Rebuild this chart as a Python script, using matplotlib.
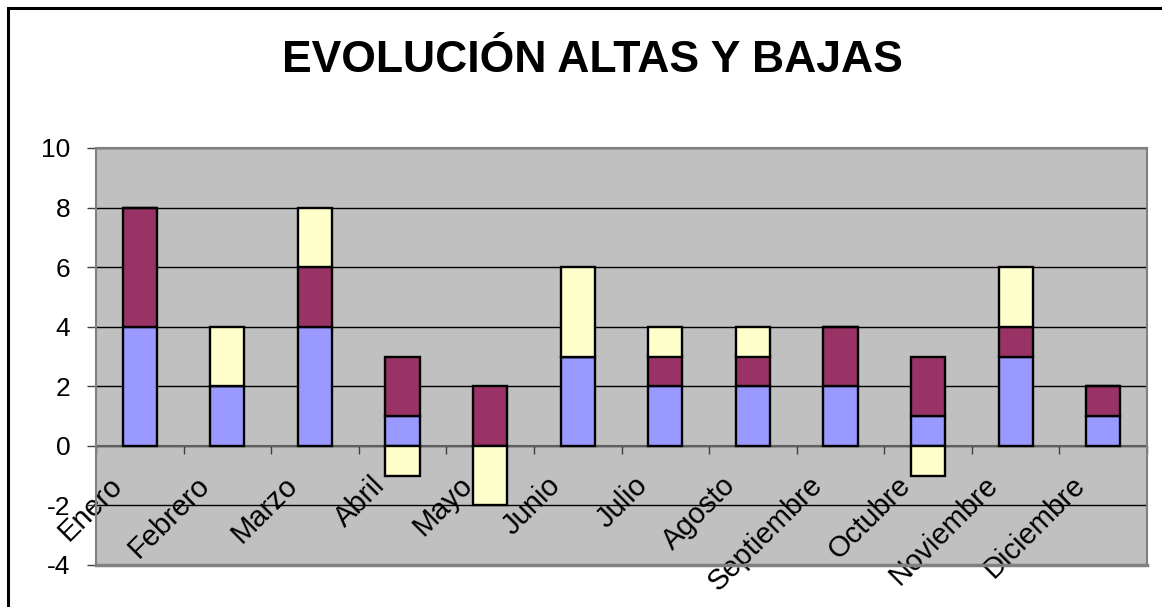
import numpy as np
import matplotlib.pyplot as plt
from matplotlib.patches import Rectangle
from matplotlib.transforms import ScaledTranslation

meses = ["Enero", "Febrero", "Marzo", "Abril", "Mayo", "Junio", "Julio",
         "Agosto", "Septiembre", "Octubre", "Noviembre", "Diciembre"]

# three series, stacked (negatives go below zero on their own)
serie_azul = [4, 2, 4, 1, 0, 3, 2, 2, 2, 1, 3, 1]
serie_granate = [4, 0, 2, 2, 2, 0, 1, 1, 2, 2, 1, 1]
serie_amarilla = [0, 2, 2, -1, -2, 3, 1, 1, 0, -1, 2, 0]

colores = ["#9999FF", "#993366", "#FFFFCC"]

plt.rcParams['font.family'] = ['Liberation Sans', 'DejaVu Sans']
plt.rcParams['axes.unicode_minus'] = False

fig = plt.figure(figsize=(11.62, 6.07), dpi=100)
# outer chart frame (runs off the right/bottom edges)
fig.patches.append(Rectangle((8 / 1162, -0.1), 1.2, 1 - 8 / 607 + 0.1,
                             transform=fig.transFigure, fill=False,
                             edgecolor="black", linewidth=2.2))

ax = fig.add_axes([96 / 1162, 1 - 565 / 607, (1147 - 96) / 1162, (565 - 148) / 607])
ax.set_facecolor("#C0C0C0")

x = np.arange(len(meses))
pos = np.zeros(len(meses))
neg = np.zeros(len(meses))
for serie, color in zip([serie_azul, serie_granate, serie_amarilla], colores):
    vals = np.array(serie, dtype=float)
    base = np.where(vals >= 0, pos, neg)
    ax.bar(x, vals, 0.39, bottom=base, color=color, edgecolor="black",
           linewidth=1.7, zorder=3)
    pos += np.where(vals > 0, vals, 0)
    neg += np.where(vals < 0, vals, 0)

ax.set_xlim(-0.5, len(meses) - 0.5)
ax.set_ylim(-4, 10)
ax.set_yticks(range(-4, 11, 2))
ax.yaxis.grid(True, color="black", linewidth=1, zorder=1)
ax.tick_params(axis="y", direction="out", length=6.5, width=1, labelsize=19,
               pad=12, color="#404040")

for s in ["top", "right", "left"]:
    ax.spines[s].set_color("#808080")
    ax.spines[s].set_linewidth(1.5)
ax.spines["bottom"].set_position(("data", 0))
ax.spines["bottom"].set_color("#606060")
ax.spines["bottom"].set_linewidth(1.5)
ax.spines["bottom"].set_zorder(2)
# plot-area bottom border
ax.axhline(-4, color="#808080", linewidth=2.5, zorder=2, clip_on=False)

ax.set_xticks(np.arange(-0.5, len(meses), 1))
ax.set_xticklabels([])
ax.tick_params(axis="x", which="major", direction="out", length=6, width=1,
               color="#404040")
ax.set_xticks(x, minor=True)
ax.set_xticklabels(meses, minor=True, rotation=45, ha="right", va="center",
                   rotation_mode="anchor", fontsize=21)
ax.tick_params(axis="x", which="minor", length=0, pad=0)
desplaza = ScaledTranslation(-22 / 100, -35 / 100, fig.dpi_scale_trans)
for lbl in ax.get_xticklabels(minor=True):
    lbl.set_transform(lbl.get_transform() + desplaza)

fig.text(592 / 1162, 1 - 72 / 607, "EVOLUCIÓN ALTAS Y BAJAS", ha="center",
         va="baseline", fontsize=32, fontweight="bold")

fig.savefig("out.png", dpi=100)
